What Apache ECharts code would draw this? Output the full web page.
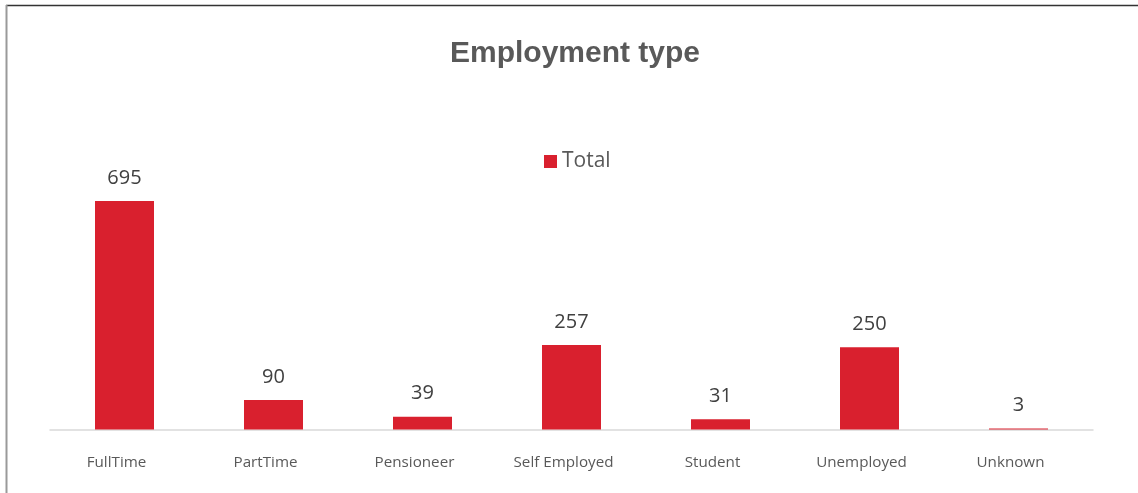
<!DOCTYPE html>
<html>
<head>
<meta charset="utf-8">
<script src="https://cdn.jsdelivr.net/npm/echarts@6/dist/echarts.min.js"></script>
<style>
  html, body { margin: 0; padding: 0; background: #ffffff; }
  #chart { width: 1138px; height: 493px; }
</style>
</head>
<body>
<div id="chart"></div>
<script>
// Employment type counts
const categories = ['FullTime', 'PartTime', 'Pensioneer', 'Self Employed', 'Student', 'Unemployed', 'Unknown'];
const totals = [695, 90, 39, 257, 31, 250, 3];
const seriesName = 'Total';

const chart = echarts.init(document.getElementById('chart'), null, { renderer: 'canvas' });

chart.setOption({
  animation: false,
  backgroundColor: '#ffffff',
  title: {
    text: 'Employment type',
    left: 445,
    top: 34,
    textStyle: {
      fontFamily: 'Liberation Sans, Arial, sans-serif',
      fontWeight: 'bold',
      fontSize: 30,
      color: '#595959'
    }
  },
  legend: {
    data: [seriesName],
    left: 539,
    top: 146,
    itemWidth: 13,
    itemHeight: 13,
    itemGap: 10,
    icon: 'rect',
    textStyle: {
      fontFamily: 'Open Sans, sans-serif',
      fontSize: 21,
      color: '#595959'
    }
  },
  grid: {
    left: 50,
    right: 45,
    top: 166.6,
    bottom: 63.5,
    containLabel: false
  },
  xAxis: {
    type: 'category',
    data: categories,
    axisLine: { show: true, lineStyle: { color: '#d9d9d9', width: 1.5 } },
    axisTick: { show: false },
    axisLabel: {
      margin: 26,
      padding: [0, 16, 0, 0],
      fontFamily: 'Open Sans, sans-serif',
      fontSize: 15.2,
      color: '#595959'
    }
  },
  yAxis: {
    type: 'value',
    min: 0,
    max: 800,
    show: false,
    splitLine: { show: false }
  },
  series: [{
    name: seriesName,
    type: 'bar',
    data: totals,
    barWidth: 59,
    itemStyle: { color: '#d9202e' },
    label: {
      show: true,
      position: 'top',
      distance: 13,
      fontFamily: 'Open Sans, sans-serif',
      fontSize: 20,
      color: '#404040'
    }
  }],
  graphic: [
    // frame lines along the top and left edges
    {
      type: 'line',
      shape: { x1: 6, y1: 5.5, x2: 1138, y2: 5.5 },
      style: { stroke: '#333333', lineWidth: 1.5 }
    },
    {
      type: 'line',
      shape: { x1: 6.5, y1: 5, x2: 6.5, y2: 493 },
      style: { stroke: '#9a9a9a', lineWidth: 2 }
    }
  ]
});
</script>
</body>
</html>
